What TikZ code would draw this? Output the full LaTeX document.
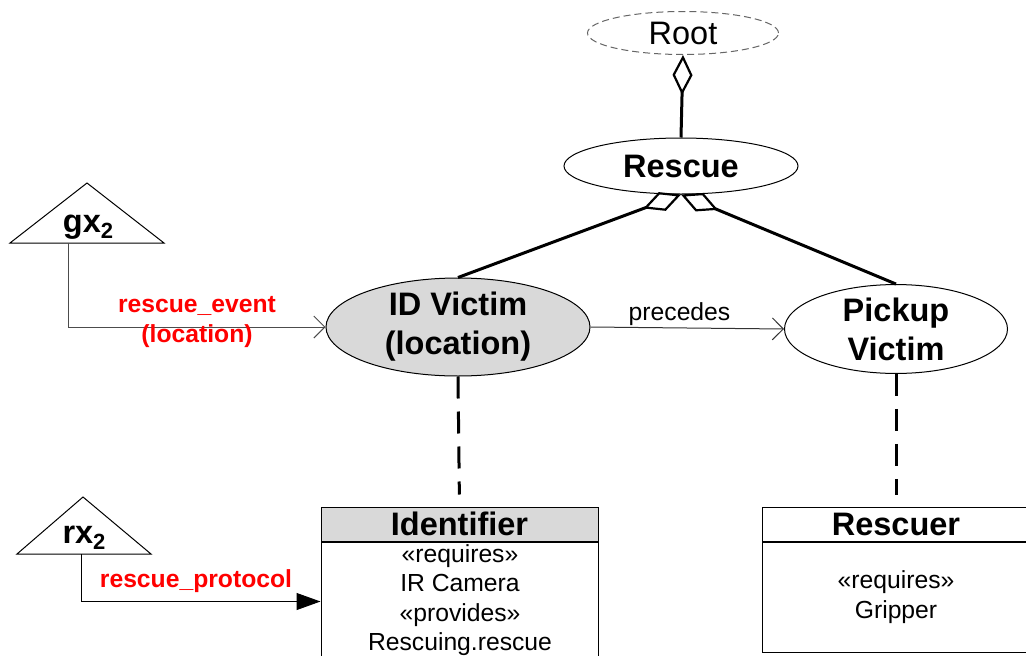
\documentclass[tikz,border=0pt]{standalone}
\usepackage{fontspec}
\setmainfont{Liberation Sans}
\usetikzlibrary{shapes.geometric,arrows.meta}
\newcommand\mysubtwo{\raisebox{-6pt}{\fontsize{22}{22}\selectfont 2}}
\begin{document}
\begin{tikzpicture}[x=1pt,y=-1pt,
  bigb/.style={font=\fontsize{32.5}{39}\selectfont\bfseries},
  bigr/.style={font=\fontsize{32.5}{39}\selectfont},
  smallr/.style={font=\fontsize{24.7}{29.5}\selectfont},
  redlab/.style={font=\fontsize{24.7}{30}\selectfont\bfseries, text=red, align=center, inner sep=0pt},
  ell/.style={ellipse, draw, inner sep=0pt, line width=1pt, align=center},
  thickline/.style={line width=3pt},
  aggr/.style={thickline, -{Diamond[open,length=40pt,width=20pt,line width=2.2pt]}},
  thinarrow/.style={line width=1pt, draw=black!80, -{Straight Barb[length=11pt,width=22pt,line width=1pt]}},
  depline/.style={line width=3pt, dash pattern=on 22pt off 13pt},
  tri/.style={line width=1pt},
  boxpart/.style={draw, line width=1pt, rectangle, inner sep=0pt}]
\useasboundingbox (0,0) rectangle (1026,656);
\clip (0,0) rectangle (1026,656);
\fill[white] (0,0) rectangle (1026,656);

% ellipses
\node[ell, dashed, dash pattern=on 7pt off 4pt, draw=black!60, minimum width=191pt, minimum height=43pt, bigr] (root) at (683,33) {Root};
\node[ell, minimum width=234pt, minimum height=56pt, bigb] (rescue) at (681,166) {Rescue};
\node[ell, fill=black!15, minimum width=264pt, minimum height=80pt, bigb] (idv) at (458,327) {ID Victim\\(location)};
\node[ell, minimum width=223pt, minimum height=78pt, bigb] (pv) at (896,329) {Pickup\\Victim};

% aggregation connectors
\draw[aggr] (rescue.north) -- (root.south);
\draw[aggr] (idv.north) -- (rescue.south);
\draw[aggr] (pv.north) -- (rescue.south);

% precedes
\draw[thinarrow] (idv.east) -- node[pos=0.46, above=-2pt, smallr] (prec) {precedes} (pv.west);

% boxes
\node[boxpart, fill=black!15, minimum width=277pt, minimum height=34pt, bigb] (identh) at (459.5,524) {Identifier};
\node[boxpart, minimum width=277pt, minimum height=119pt, anchor=north] (identb) at (identh.south) {};
\node[smallr, align=center] (identt) at (460,600) {«requires»\\IR Camera\\«provides»\\Rescuing.rescue};

\node[boxpart, minimum width=268pt, minimum height=34pt, bigb] (rescuerh) at (896,524) {Rescuer};
\node[boxpart, minimum width=268pt, minimum height=110pt, anchor=north] (rescuerb) at (rescuerh.south) {};
\node[smallr, align=center] (rescuert) at (896,597) {«requires»\\Gripper};

% dependency dashed lines
\draw[depline, shorten >=12pt] (idv.south) -- (identh.north);
\draw[depline, shorten >=12pt] (pv.south) -- (rescuerh.north);

% triangles
\coordinate (gxa) at (87,183);
\coordinate (gxl) at (10,243);
\coordinate (gxr) at (164,243);
\coordinate (gxb) at (68,243);
\draw[tri] (gxl) -- (gxa) -- (gxr) -- cycle;
\node[bigb] (gx) at (88,227) {gx\mysubtwo};

\coordinate (rxa) at (83,497);
\coordinate (rxl) at (17,554);
\coordinate (rxr) at (151,554);
\coordinate (rxb) at (81,554);
\draw[tri] (rxl) -- (rxa) -- (rxr) -- cycle;
\node[bigb] (rx) at (84,538) {rx\mysubtwo};

% event connectors
\draw[thinarrow, draw=black!70] (gxb) |- (idv.west);
\node[redlab] (evlab) at (197,322) {rescue\_event\\(location)};

\draw[line width=1pt, -{Triangle[length=24pt,width=17pt]}] (rxb) |- (identb.west);
\node[redlab] (prlab) at (196,581) {rescue\_protocol};
\end{tikzpicture}
\end{document}
